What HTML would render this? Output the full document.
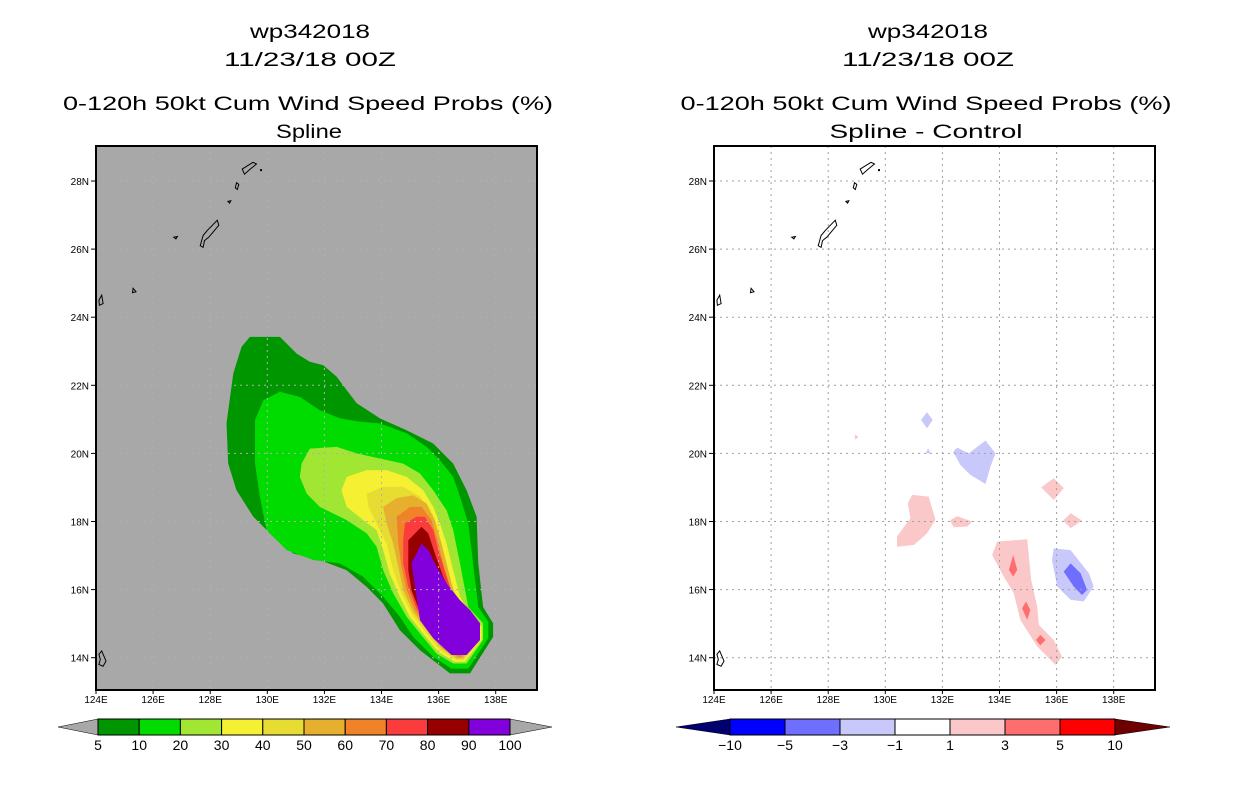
<!DOCTYPE html>
<html><head><meta charset="utf-8"><style>
html,body{margin:0;padding:0;background:#fff;}
svg{display:block;font-family:"Liberation Sans",sans-serif;}
</style></head><body>
<svg id="root" width="1236" height="800" viewBox="0 0 1236 800">
<g id="titles" font-size="19" fill="#000" text-anchor="middle">
<text x="310" y="38" textLength="120" lengthAdjust="spacingAndGlyphs">wp342018</text>
<text x="310" y="66" textLength="172" lengthAdjust="spacingAndGlyphs">11/23/18 00Z</text>
<text x="308" y="110" textLength="490" lengthAdjust="spacingAndGlyphs">0-120h 50kt Cum Wind Speed Probs (%)</text>
<text x="309" y="138" textLength="66" lengthAdjust="spacingAndGlyphs">Spline</text>
<text x="928" y="38" textLength="120" lengthAdjust="spacingAndGlyphs">wp342018</text>
<text x="928" y="66" textLength="172" lengthAdjust="spacingAndGlyphs">11/23/18 00Z</text>
<text x="926" y="110" textLength="491" lengthAdjust="spacingAndGlyphs">0-120h 50kt Cum Wind Speed Probs (%)</text>
<text x="926" y="138" textLength="193" lengthAdjust="spacingAndGlyphs">Spline - Control</text>
</g>
<g id="left"></g>
<g id="right"></g>
<g id="cbars"></g>
</svg>
<script>
// axis / tick data
const lonTicks = [124,126,128,130,132,134,136,138];
const latTicks = [14,16,18,20,22,24,26,28];
// left panel probability contours (lon,lat pairs), from 5% outward to 90%
const probLevels = ['5','10','20','30','40','50','60','70','80','90','100'];
const probColors = ['#009600','#00dc00','#a0e632','#f5f032','#e6dc32','#e6af2d','#f08228','#fa3c3c','#960000','#8200dc'];
const c5 = [[129.39,23.42],[130.44,23.42],[131.03,22.93],[131.49,22.69],[131.96,22.59],[132.43,22.25],[132.78,21.86],[133.13,21.47],[133.94,21.03],[134.88,20.68],[135.81,20.29],[136.51,19.70],[136.98,18.92],[137.33,18.14],[137.39,16.77],[137.56,15.49],[137.91,15.01],[137.91,14.61],[137.10,13.54],[136.40,13.54],[135.35,14.22],[134.64,14.81],[134.06,15.59],[133.48,16.08],[132.78,16.57],[131.84,16.87],[130.91,17.06],[130.21,17.55],[129.51,18.14],[128.92,18.92],[128.63,19.70],[128.57,20.88],[128.81,22.35],[129.10,23.13]];
const c10 = [[130.44,21.81],[131.14,21.66],[131.84,21.27],[132.54,21.03],[133.24,20.93],[133.94,20.88],[134.88,20.59],[135.58,20.19],[136.05,19.80],[136.51,19.31],[136.75,18.73],[137.04,17.94],[137.21,16.77],[137.39,15.49],[137.74,15.05],[137.74,14.57],[137.04,13.68],[136.45,13.68],[135.81,14.03],[135.11,14.61],[134.64,15.20],[134.06,15.79],[133.36,16.38],[132.54,16.77],[131.61,16.87],[130.68,17.16],[129.97,17.75],[129.74,18.73],[129.57,19.70],[129.57,20.98],[129.86,21.56]];
const c20 = [[131.49,20.14],[132.43,20.19],[133.13,20.00],[133.94,19.85],[134.76,19.70],[135.35,19.41],[135.81,18.92],[136.28,18.33],[136.51,17.75],[136.75,16.77],[137.04,15.49],[137.56,15.01],[137.56,14.52],[136.98,13.83],[136.51,13.83],[135.93,14.12],[135.35,14.71],[134.88,15.20],[134.41,15.89],[134.06,16.57],[133.83,17.26],[133.48,17.65],[132.78,18.04],[131.84,18.43],[131.38,18.82],[131.14,19.31],[131.20,19.70]];
const c30 = [[132.78,19.31],[133.48,19.51],[134.18,19.51],[134.88,19.31],[135.46,18.92],[135.81,18.43],[136.05,17.94],[136.28,17.35],[136.51,16.57],[136.75,15.79],[137.10,15.30],[137.51,14.91],[137.51,14.52],[136.92,13.88],[136.57,13.88],[135.99,14.17],[135.46,14.71],[134.99,15.20],[134.64,15.79],[134.29,16.47],[134.06,17.16],[133.83,17.75],[133.36,18.04],[132.78,18.43],[132.60,18.92]];
const c40 = [[133.48,18.82],[134.06,19.02],[134.76,19.02],[135.35,18.73],[135.70,18.24],[135.99,17.65],[136.22,16.96],[136.45,16.18],[136.75,15.59],[137.45,15.01],[137.45,14.47],[136.86,13.93],[136.63,13.93],[136.05,14.22],[135.52,14.76],[135.05,15.30],[134.70,15.89],[134.41,16.57],[134.18,17.35],[133.83,17.94],[133.54,18.43]];
const c50 = [[134.06,18.43],[134.53,18.68],[135.11,18.77],[135.58,18.53],[135.87,18.04],[136.10,17.35],[136.34,16.57],[136.57,15.79],[136.86,15.40],[137.39,14.96],[137.39,14.47],[136.84,13.98],[136.65,13.98],[136.10,14.27],[135.58,14.81],[135.11,15.35],[134.76,15.98],[134.59,16.67],[134.41,17.35],[134.18,17.94]];
const c60 = [[134.53,18.14],[135.00,18.43],[135.40,18.43],[135.75,18.04],[135.99,17.35],[136.22,16.57],[136.51,15.79],[136.80,15.40],[137.33,14.93],[137.33,14.50],[136.80,14.03],[136.68,14.03],[136.14,14.32],[135.64,14.86],[135.17,15.40],[134.88,15.98],[134.70,16.67],[134.59,17.35]];
const c70 = [[134.82,17.94],[135.23,18.14],[135.52,18.14],[135.81,17.75],[135.99,17.16],[136.28,16.38],[136.51,15.79],[136.75,15.40],[137.27,14.91],[137.27,14.52],[136.77,14.08],[136.70,14.08],[136.19,14.37],[135.70,14.91],[135.23,15.45],[134.94,16.08],[134.76,16.77],[134.76,17.45]];
const c80 = [[134.94,17.45],[135.40,17.84],[135.64,17.65],[135.87,17.06],[136.16,16.38],[136.45,15.89],[136.75,15.50],[137.21,14.91],[137.21,14.52],[136.75,14.13],[136.23,14.42],[135.74,14.96],[135.32,15.40],[135.05,15.98],[134.94,16.57]];
const c90 = [[135.05,16.77],[135.40,17.35],[135.64,17.16],[135.93,16.67],[136.28,16.18],[136.75,15.69],[137.10,15.40],[137.45,15.01],[137.45,14.52],[136.98,14.08],[136.45,14.08],[135.81,14.57],[135.35,15.10],[135.23,15.79]];
// right panel difference regions
const diffLevels = ['-10','-5','-3','-1','1','3','5','10'];
const diffColors = ['#0000ff','#6e6eff','#c8c8fa','#ffffff','#fac8c8','#ff6e6e','#ff0000'];
const dBlue1 = [[131.46,21.21],[131.66,20.98],[131.46,20.74],[131.25,20.98]];
const dBlue2 = [[131.50,20.15],[131.58,20.0],[131.42,20.0]];
const dBlue3 = [[132.38,20.05],[132.52,20.17],[132.92,20.0],[133.51,20.38],[133.86,20.0],[133.68,19.61],[133.51,19.10],[132.98,19.37],[132.63,19.66]];
const dBlue4 = [[135.90,17.21],[136.49,17.16],[137.13,16.48],[137.30,16.09],[136.95,15.65],[136.49,15.70],[136.02,16.09],[135.84,16.87]];
const dBlue5 = [[136.49,16.77],[136.84,16.48],[137.07,15.99],[136.89,15.84],[136.60,16.09],[136.25,16.53]];
const dRed1 = [[130.94,18.78],[131.52,18.73],[131.76,18.05],[131.46,17.65],[131.0,17.31],[130.41,17.26],[130.41,17.56],[130.88,18.09],[130.79,18.54]];
const dRed2 = [[132.26,18.03],[132.52,18.16],[133.04,18.0],[132.87,17.85],[132.40,17.83]];
const dRed3 = [[135.46,19.0],[135.90,19.27],[136.25,18.98],[135.90,18.63]];
const dRed4 = [[136.23,18.03],[136.49,18.24],[136.89,18.03],[136.49,17.80]];
const dRed5 = [[133.92,17.41],[134.97,17.48],[135.11,16.28],[135.32,15.5],[135.38,14.96],[135.90,14.52],[136.19,14.03],[135.96,13.79],[135.32,14.33],[134.73,15.11],[134.50,15.89],[134.15,16.38],[133.74,17.02]];
const dRed6 = [[128.93,20.56],[129.06,20.48],[128.93,20.40]];
const dRed7 = [[134.48,17.02],[134.62,16.58],[134.48,16.38],[134.33,16.58]];
const dRed8 = [[134.93,15.65],[135.08,15.40],[134.97,15.11],[134.79,15.45]];
const dRed9 = [[135.43,14.67],[135.61,14.52],[135.43,14.36],[135.28,14.52]];
// island outlines
const isl1 = [[129.12,28.35],[129.5,28.55],[129.62,28.5],[129.4,28.35],[129.2,28.2]];
const isl2 = [[128.92,27.95],[129.0,27.9],[128.95,27.75],[128.88,27.8]];
const isl3 = [[128.62,27.4],[128.72,27.42],[128.68,27.35]];
const isl4 = [[127.65,26.1],[127.75,26.4],[127.9,26.55],[128.25,26.85],[128.3,26.7],[128.1,26.5],[127.95,26.35],[127.8,26.25],[127.75,26.05]];
const isl5 = [[126.72,26.35],[126.85,26.37],[126.8,26.3]];
const isl6 = [[125.3,24.85],[125.4,24.75],[125.28,24.72]];
const isl7 = [[124.1,24.5],[124.2,24.65],[124.25,24.4],[124.12,24.35]];
const isl8 = [[124.1,14.1],[124.2,14.2],[124.35,13.9],[124.25,13.75],[124.1,13.8],[124.15,13.95]];

const NS='http://www.w3.org/2000/svg';
function mk(tag,attrs,parent){const e=document.createElementNS(NS,tag);for(const k in attrs)e.setAttribute(k,attrs[k]);parent.appendChild(e);return e;}
const LON0=124, LAT0=28, PXLON=28.55, PXLAT=34.05, TOP=146, BOT=690;
function xs(x0){return lon=>x0+(lon-LON0)*PXLON;}
function ys(lat){return 181+(LAT0-lat)*PXLAT;}
function pts(arr,X){return arr.map(p=>X(p[0]).toFixed(1)+','+ys(p[1]).toFixed(1)).join(' ');}

function panel(g,x0,bg,gridCol,polys,idp){
  const X=xs(x0+0), right=x0+441;
  const clip=mk('clipPath',{id:'clip'+idp},g);
  mk('rect',{x:x0,y:TOP,width:441,height:BOT-TOP},clip);
  const bgr=mk('rect',{x:x0,y:TOP,width:441,height:BOT-TOP,fill:bg},g);
  
  
  const cg=mk('g',{'clip-path':'url(#clip'+idp+')'},g);
  polys.forEach(pc=>{
    const p=mk('polygon',{points:pts(pc[0],X),fill:pc[1]},cg);
    
    
  });
  lonTicks.forEach(l=>{
    const ln=mk('line',{x1:X(l),x2:X(l),y1:TOP,y2:BOT,stroke:gridCol,'stroke-width':1,'stroke-dasharray':'2,4'},cg);
    
    
  });
  latTicks.forEach(l=>{
    const ln=mk('line',{x1:x0,x2:right,y1:ys(l),y2:ys(l),stroke:gridCol,'stroke-width':1,'stroke-dasharray':'2,4'},cg);
    
    
  });
  [isl1,isl2,isl3,isl4,isl5,isl6,isl7,isl8].forEach(a=>{
    const p=mk('polygon',{points:pts(a,X),fill:'none',stroke:'#000','stroke-width':1},cg);
    
    
  });
  const dot=mk('rect',{x:X(129.78)-1,y:ys(28.32)-1,width:2,height:2,fill:'#000'},cg);
  
  
  const fr=mk('rect',{x:x0,y:TOP,width:441,height:BOT-TOP,fill:'none',stroke:'#000','stroke-width':2},g);
  
  
  latTicks.forEach(l=>{
    const t=mk('line',{x1:x0-5,x2:x0,y1:ys(l),y2:ys(l),stroke:'#000','stroke-width':1},g);
    
    
    const tx=mk('text',{x:x0-7,y:ys(l)+4,'font-size':10,'text-anchor':'end'},g);
    tx.textContent=l+'N';
    
    
  });
  lonTicks.forEach(l=>{
    const t=mk('line',{x1:X(l),x2:X(l),y1:BOT,y2:BOT+4,stroke:'#000','stroke-width':1},g);
    
    
    const tx=mk('text',{x:X(l),y:BOT+13,'font-size':10,'text-anchor':'middle'},g);
    tx.textContent=l+'E';
    
    
  });
}
const L=[c5,c10,c20,c30,c40,c50,c60,c70,c80,c90].map((c,i)=>[c,probColors[i]]);
panel(document.getElementById('left'),96,'#a8a8a8','#b0b0b0',L,'L');
const R=[[dBlue1,diffColors[2]],[dBlue2,diffColors[2]],[dBlue3,diffColors[2]],[dBlue4,diffColors[2]],[dBlue5,diffColors[1]],
 [dRed1,diffColors[4]],[dRed2,diffColors[4]],[dRed3,diffColors[4]],[dRed4,diffColors[4]],[dRed5,diffColors[4]],[dRed6,diffColors[4]],
 [dRed7,diffColors[5]],[dRed8,diffColors[5]],[dRed9,diffColors[5]]];
panel(document.getElementById('right'),714,'#ffffff','#a0a0a0',R,'R');

function colorbar(g,x0,x1,tipL,tipR,cols,labels,endL,endR,name){
  const y0=719,y1=735,n=cols.length,w=(x1-x0)/n,ym=(y0+y1)/2;
  const tl=mk('polygon',{points:`${tipL},${ym} ${x0},${y0} ${x0},${y1}`,fill:endL,stroke:'#000','stroke-width':0.5},g);
  
  
  const tr=mk('polygon',{points:`${tipR},${ym} ${x1},${y0} ${x1},${y1}`,fill:endR,stroke:'#000','stroke-width':0.5},g);
  
  
  cols.forEach((c,i)=>{
    const r=mk('rect',{x:x0+i*w,y:y0,width:w,height:y1-y0,fill:c,stroke:'#000','stroke-width':1},g);
    
    
  });
  labels.forEach((lb,i)=>{
    const t=mk('text',{x:x0+i*w,y:y1+15,'font-size':14,'text-anchor':'middle'},g);
    t.textContent=lb.replace('-','\u2212');
    
    
  });
}
const cb=document.getElementById('cbars');
colorbar(cb,98,510,58,552,probColors,probLevels,'#a8a8a8','#a8a8a8','prob-colorbar');
colorbar(cb,730,1115,676,1170,diffColors,diffLevels,'#00006e','#6e0000','diff-colorbar');
</script>
</body></html>
